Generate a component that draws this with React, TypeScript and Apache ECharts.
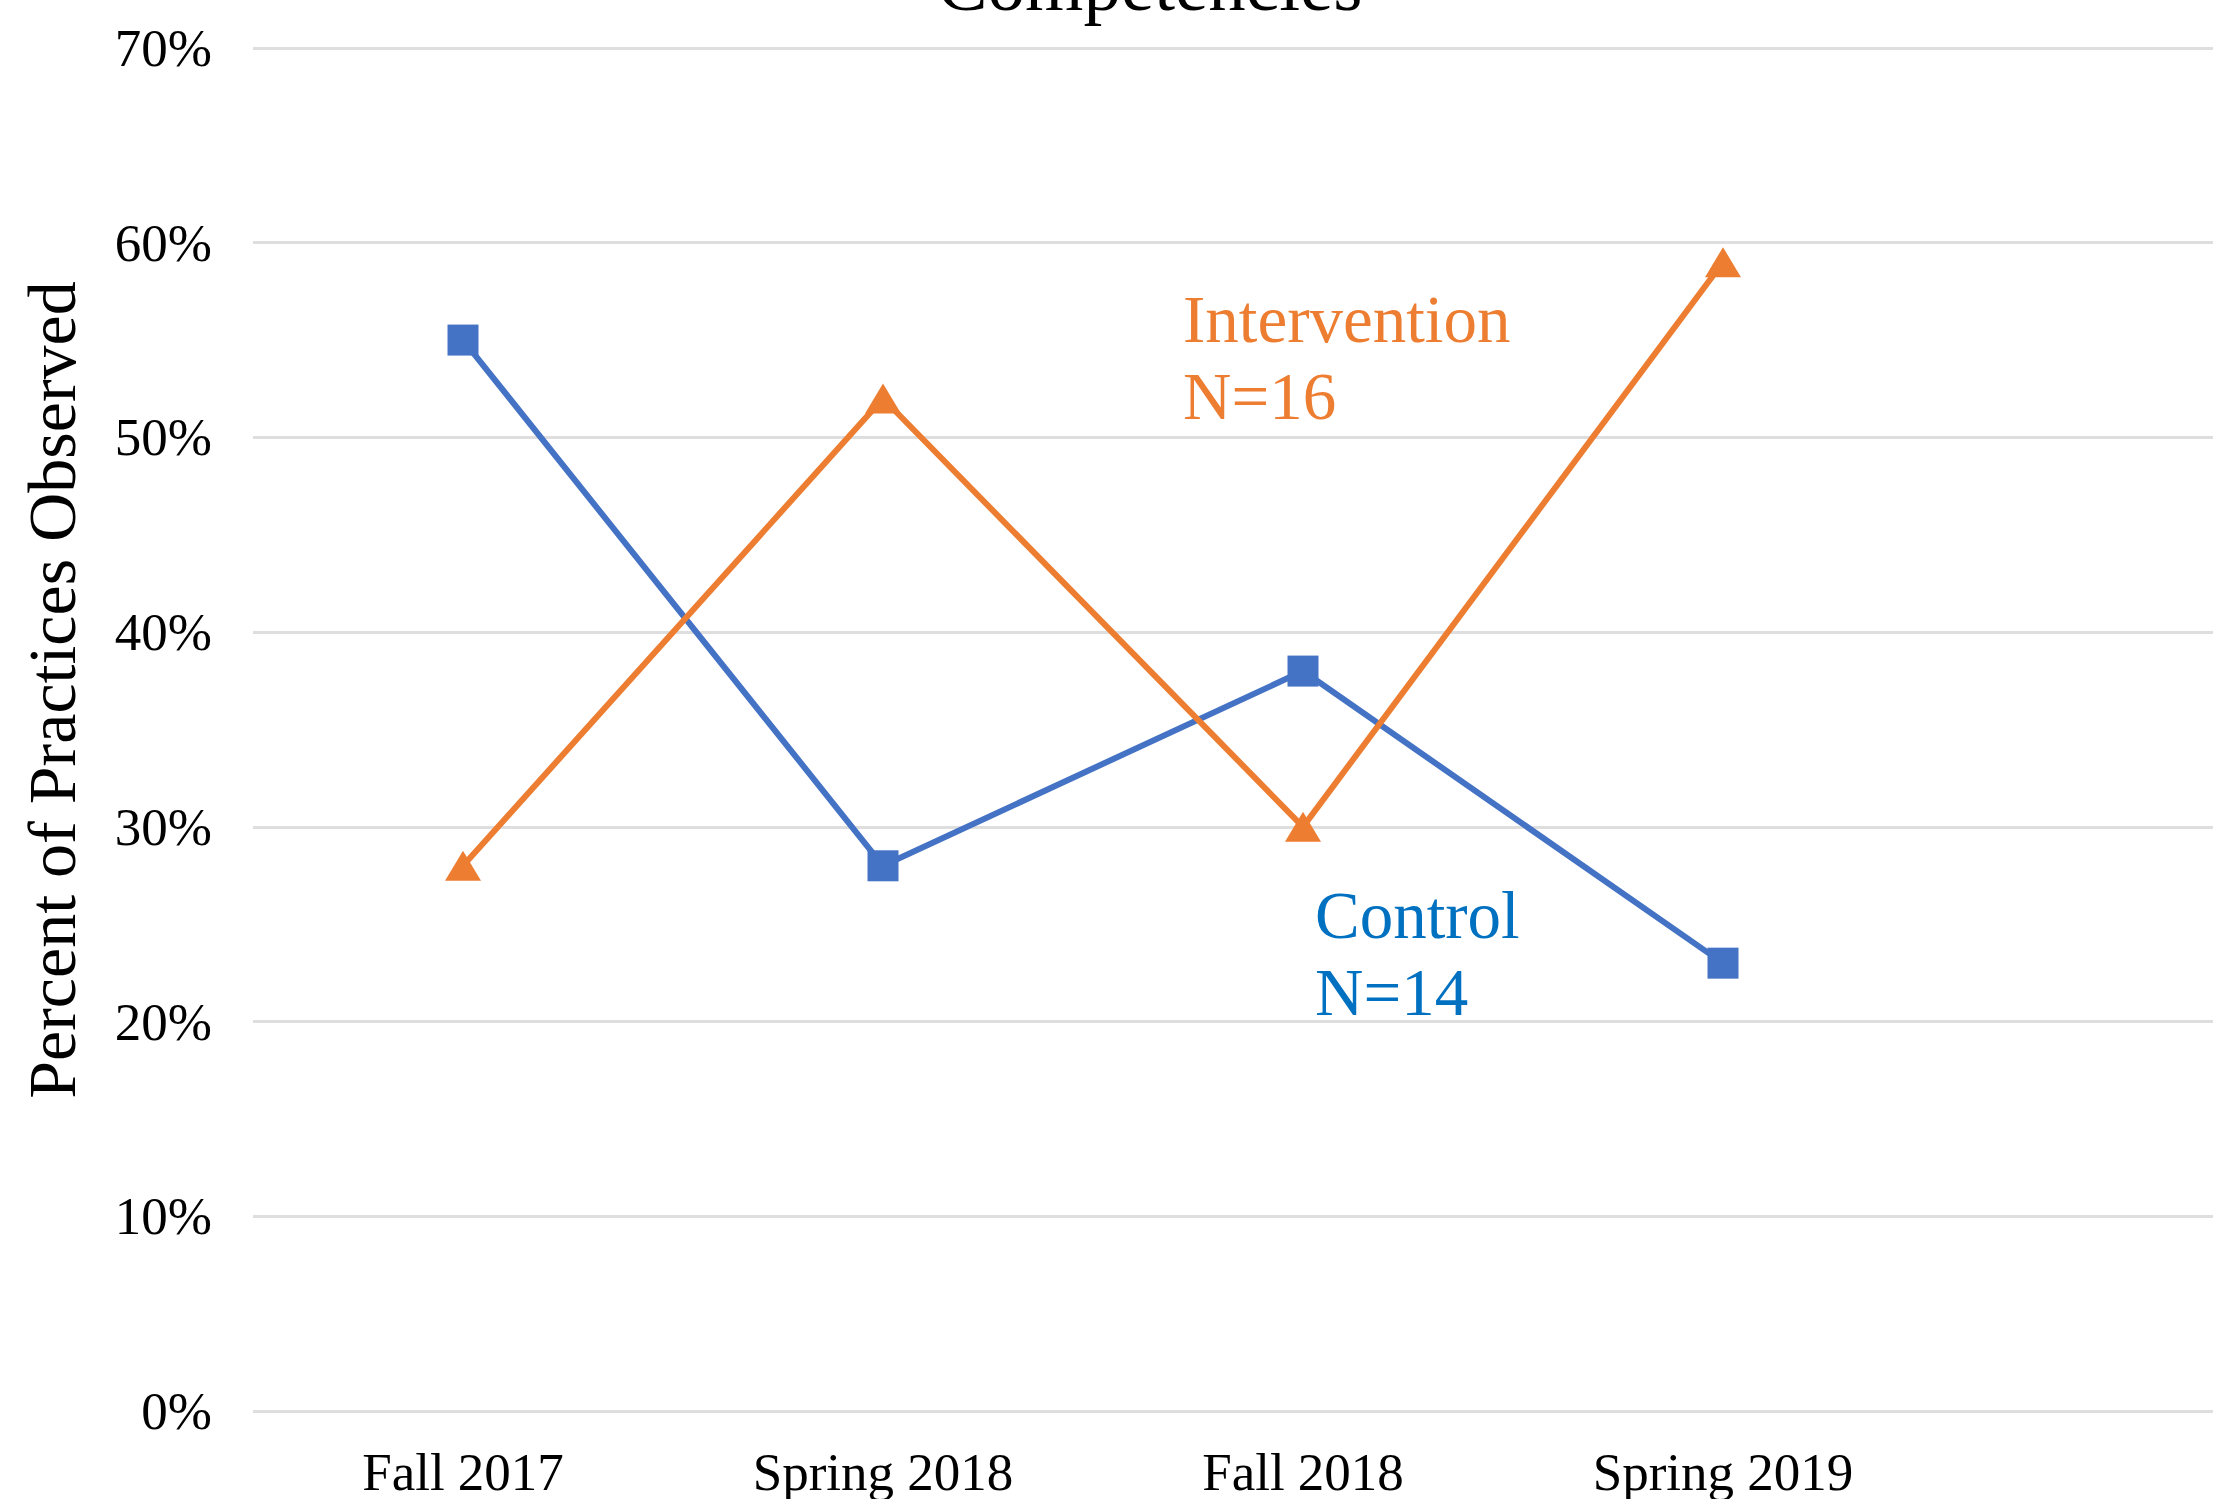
import React, { useEffect, useRef } from "react";
import * as echarts from "echarts";

const categories = ["Fall 2017", "Spring 2018", "Fall 2018", "Spring 2019"];
const controlValues = [55, 28, 38, 23];
const interventionValues = [28, 52, 30, 59];
const yTicks = { min: 0, max: 70, interval: 10 };
const titleText = "Competencies";
const yAxisTitle = "Percent of Practices Observed";
const interventionNote = "Intervention\nN=16";
const controlNote = "Control\nN=14";

const SERIF = '"Liberation Serif", "Times New Roman", serif';
const BLUE = "#4472C4";
const ORANGE = "#ED7D31";
const NOTE_BLUE = "#0070C0";

export default function App() {
  const ref = useRef<HTMLDivElement>(null);
  useEffect(() => {
    if (!ref.current) return;
    const chart = echarts.init(ref.current, null, { renderer: "svg" });
    chart.setOption({
      animation: false,
      backgroundColor: "#ffffff",
      grid: {
        left: 253,
        top: 48,
        width: 2100,
        height: 1363,
        containLabel: false,
        outerBoundsMode: "none",
      },
      xAxis: {
        type: "category",
        data: categories,
        max: 4,
        boundaryGap: true,
        axisLine: { show: false },
        axisTick: { show: false },
        axisLabel: {
          margin: 34,
          fontFamily: SERIF,
          fontSize: 53,
          color: "#000",
        },
        splitLine: { show: false },
      },
      yAxis: {
        type: "value",
        min: yTicks.min,
        max: yTicks.max,
        interval: yTicks.interval,
        axisLine: { show: false },
        axisTick: { show: false },
        axisLabel: {
          margin: 41,
          fontFamily: SERIF,
          fontSize: 53,
          color: "#000",
          formatter: "{value}%",
        },
        splitLine: { show: true, lineStyle: { color: "#DEDEDE", width: 3 } },
      },
      graphic: [
        {
          type: "text",
          x: 1150,
          y: 22,
          style: {
            text: titleText,
            align: "center",
            verticalAlign: "bottom",
            fontFamily: SERIF,
            fontSize: 75,
            fill: "#000",
          },
        },
        {
          type: "text",
          x: 52,
          y: 690,
          rotation: Math.PI / 2,
          style: {
            text: yAxisTitle,
            align: "center",
            verticalAlign: "middle",
            fontFamily: SERIF,
            fontSize: 68,
            fill: "#000",
          },
        },
        {
          type: "text",
          x: 1183,
          y: 357,
          style: {
            text: interventionNote,
            align: "left",
            verticalAlign: "middle",
            fontFamily: SERIF,
            fontSize: 67,
            lineHeight: 77,
            fill: ORANGE,
          },
        },
        {
          type: "text",
          x: 1315,
          y: 953,
          style: {
            text: controlNote,
            align: "left",
            verticalAlign: "middle",
            fontFamily: SERIF,
            fontSize: 67,
            lineHeight: 77,
            fill: NOTE_BLUE,
          },
        },
      ],
      series: [
        {
          name: "Control",
          type: "line",
          data: controlValues,
          symbol: "rect",
          symbolSize: 31,
          lineStyle: { color: BLUE, width: 6 },
          itemStyle: { color: BLUE },
          emphasis: { disabled: true },
        },
        {
          name: "Intervention",
          type: "line",
          data: interventionValues,
          symbol: "triangle",
          symbolSize: [36, 30],
          lineStyle: { color: ORANGE, width: 6 },
          itemStyle: { color: ORANGE },
          emphasis: { disabled: true },
        },
      ],
    });
    return () => chart.dispose();
  }, []);
  return (
    <div
      ref={ref}
      style={{ position: "absolute", left: 0, top: 0, width: 2213, height: 1499 }}
    />
  );
}
